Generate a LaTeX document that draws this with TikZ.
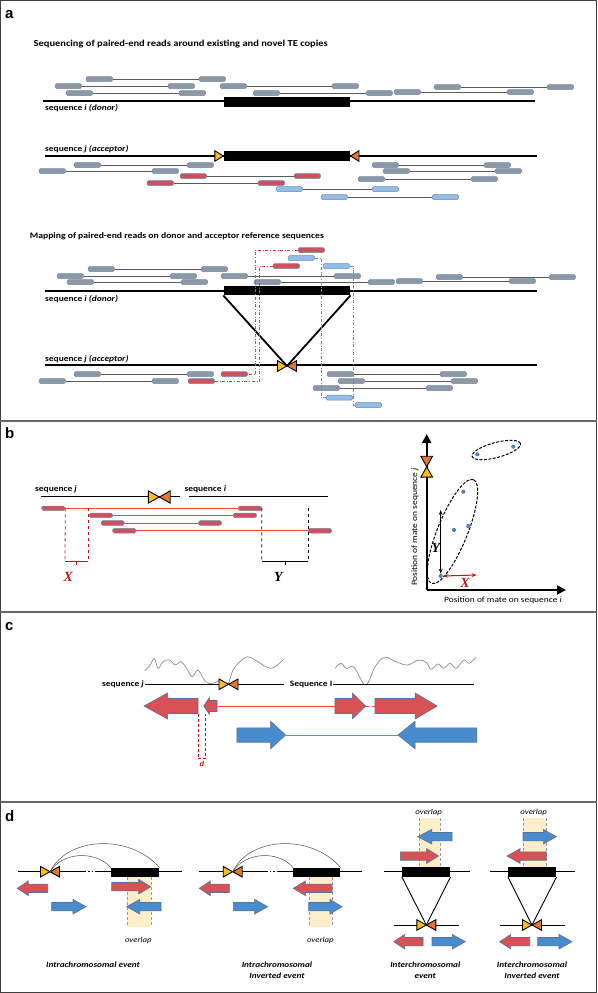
\documentclass[tikz,border=0pt]{standalone}
\usepackage{fontspec}
\setmainfont{Carlito}[FakeStretch=1.15]
\newfontfamily\panelfont{Liberation Sans}
\newfontfamily\varfont{Liberation Serif}
\usetikzlibrary{arrows.meta, calc}
\definecolor{readgray}{RGB}{141,152,164}
\definecolor{readedge}{RGB}{112,140,172}
\definecolor{readred}{RGB}{204,82,92}
\definecolor{readblue}{RGB}{146,190,232}
\definecolor{tsdyellow}{RGB}{250,190,20}
\definecolor{tsdorange}{RGB}{225,120,55}
\definecolor{arrred}{RGB}{214,82,84}
\definecolor{arrblue}{RGB}{72,140,205}
\definecolor{arredge}{RGB}{90,110,150}
\definecolor{ovl}{RGB}{252,238,200}
\definecolor{dotblue}{RGB}{85,130,185}
\definecolor{mateline}{RGB}{90,90,90}
\definecolor{darkred}{RGB}{200,20,20}
\definecolor{ddred}{RGB}{225,70,70}
\definecolor{ddblue}{RGB}{70,145,225}
\tikzstyle{read} = [rectangle, rounded corners=1.6pt, minimum width=26.7pt, minimum height=5pt, inner sep=0pt, draw=readedge, line width=0.5pt, fill=readgray]
\tikzstyle{redread} = [read, fill=readred]
\tikzstyle{blueread} = [read, fill=readblue]
\tikzstyle{bread} = [read, fill=readred, minimum width=23.3pt, minimum height=4.6pt]
\tikzstyle{mate} = [line width=0.5pt, draw=mateline]
\tikzstyle{redmate} = [line width=0.6pt, draw=red!75!white]
\tikzstyle{seqline} = [line width=1.3pt]
\tikzstyle{te} = [rectangle, fill=black, inner sep=0pt]
\tikzstyle{vline} = [line width=1.8pt]
\tikzstyle{reddd} = [dash dot, line width=0.8pt, draw=ddred]
\tikzstyle{bluedd} = [dash dot, line width=0.8pt, draw=ddblue]
\tikzstyle{title} = [font=\bfseries\fontsize{9.1}{10}\selectfont, anchor=base west, inner sep=0pt]
\tikzstyle{seqlabel} = [font=\bfseries\fontsize{8.2}{9}\selectfont, anchor=base west, inner sep=0pt]
\tikzstyle{axislabel} = [font=\fontsize{8.2}{9}\selectfont, inner sep=0pt]
\tikzstyle{eventlabel} = [font=\bfseries\itshape\fontsize{8}{11}\selectfont, align=center, anchor=north, inner sep=0pt]
\tikzstyle{ovllabel} = [font=\itshape\fontsize{7.6}{9}\selectfont, inner sep=0pt]
\tikzstyle{panel} = [font=\panelfont\bfseries\fontsize{15}{15}\selectfont, anchor=base west, inner sep=0pt]
\tikzstyle{varlabel} = [font=\varfont\bfseries\itshape\fontsize{14}{14}\selectfont, inner sep=0pt]
\tikzstyle{redarrow} = [fill=arrred, draw=arredge, line width=0.6pt, line join=miter]
\tikzstyle{bluearrow} = [fill=arrblue, draw=arredge, line width=0.6pt, line join=miter]
\tikzstyle{axis} = [line width=1.8pt, -{Triangle[length=9pt, width=9pt]}]
\tikzstyle{cluster} = [line width=1pt, dash pattern=on 3pt off 1.5pt]
\tikzstyle{dotpt} = [circle, fill=dotblue, inner sep=0pt, minimum size=4.2pt]
\tikzstyle{ovlband} = [fill=ovl]
\tikzstyle{ovledge} = [densely dashed, line width=0.4pt, draw=black!40]
\tikzset{
  tsd/.pic={
    \filldraw[fill=tsdyellow, line width=0.9pt] (0,0) -- (-9.5,-5.3) -- (-9.5,5.3) -- cycle;
    \filldraw[fill=tsdorange, line width=0.9pt] (0,0) -- (9.5,-5.3) -- (9.5,5.3) -- cycle;
    \coordinate (-c) at (0,0);
  },
  tsdl/.pic={
    \filldraw[fill=tsdyellow, line width=0.9pt] (0,0) -- (-8.5,-5.3) -- (-8.5,5.3) -- cycle;
  },
  tsdr/.pic={
    \filldraw[fill=tsdorange, line width=0.9pt] (0,0) -- (8.5,-5.3) -- (8.5,5.3) -- cycle;
  }
}
% read drawn as a block arrow: style, name, tail x, tip x, y, head length, half body, half head
\newcommand{\seqarrow}[8]{%
  \pgfmathsetmacro{\arrhb}{(#4>#3) ? #4-#6 : #4+#6}%
  \filldraw[#1] (#3,#5-#7) -- (\arrhb,#5-#7) -- (\arrhb,#5-#8) -- (#4,#5)
    -- (\arrhb,#5+#8) -- (\arrhb,#5+#7) -- (#3,#5+#7) -- cycle;
  \coordinate (#2-tail) at (#3,#5);
  \coordinate (#2-tip) at (#4,#5);}

\begin{document}
\begin{tikzpicture}[x=1pt, y=-1pt]
    \useasboundingbox (0,0) rectangle (597,993);

    % Frame and panel separators
    \draw[line width=1.2pt, draw=black!75] (0.6,0.6) rectangle (596.4,992.4);
    \foreach \ysep in {421, 612, 802}
        \draw[line width=1.1pt, draw=black!60] (0,\ysep) -- (597,\ysep);

    % Panel letters
    \node[panel] (la) at (5,18.3) {a};
    \node[panel] (lb) at (5,438.3) {b};
    \node[panel] (lc) at (5,630) {c};
    \node[panel] (ld) at (5,821.7) {d};

    %% ---------------- Panel a ----------------
    \node[title] (t1) at (33.5,46.5) {Sequencing of paired-end reads around existing and novel TE copies};

    % Donor sequence
    \draw[seqline] (42.6,101) -- (535,101);
    \node[te, minimum width=126.8pt, minimum height=10pt] (te1) at (286.9,102) {};
    \node[seqlabel] (s1) at (45,110.8) {sequence \textit{i (donor)}};
    \foreach \y/\xa/\xb/\s [count=\i] in {79/86/199/read, 86/55/168/read, 86/220/332/read, 87/434/547/read,
                                          93/66/179/read, 93/253/366/read, 92/394/507/read} {
        \node[\s] (dn\i-a) at (\xa+13.35,\y) {};
        \node[\s] (dn\i-b) at (\xb+13.35,\y) {};
        \draw[mate] (dn\i-a) -- (dn\i-b);
    }

    % Acceptor sequence with new insertion
    \draw[seqline] (45,156) -- (537,156);
    \node[te, minimum width=126.8pt, minimum height=10pt] (te2) at (286.9,156) {};
    \pic at (te2.west) {tsdl};
    \pic at (te2.east) {tsdr};
    \node[seqlabel] (s2) at (45,151.5) {sequence \textit{j (acceptor)}};
    \foreach \y/\xa/\xb/\s [count=\i] in {165/74/187/read, 165/372/484/read, 171/39/152/read, 171/383/495/read,
                                          176/180/294/redread, 179/358/471/read, 183/147/258/redread,
                                          189/276/372/blueread, 197/321/432/blueread} {
        \node[\s] (ac\i-a) at (\xa+13.35,\y) {};
        \node[\s] (ac\i-b) at (\xb+13.35,\y) {};
        \draw[mate] (ac\i-a) -- (ac\i-b);
    }

    \node[title, font=\bfseries\fontsize{8.4}{10}\selectfont] (t2) at (29.7,238) {Mapping of paired-end reads on donor and acceptor reference sequences};

    % Mapping on donor
    \draw[seqline] (45,291) -- (537,291);
    \node[te, minimum width=126.8pt, minimum height=9.5pt] (te3) at (286.9,290.5) {};
    \node[seqlabel] (s3) at (45,301.8) {sequence \textit{i (donor)}};
    \foreach \y/\xa/\xb/\s [count=\i] in {269/88/201/read, 276/57/170/read, 276/221/334/read, 277/436/549/read,
                                          282/67/181/read, 282/254/368/read, 281/396/509/read} {
        \node[\s] (md\i-a) at (\xa+13.35,\y) {};
        \node[\s] (md\i-b) at (\xb+13.35,\y) {};
        \draw[mate] (md\i-a) -- (md\i-b);
    }

    % Mapping on acceptor
    \draw[seqline] (45,365) -- (537,365);
    \node[seqlabel] (s4) at (45,361.5) {sequence \textit{j (acceptor)}};
    \foreach \y/\xa/\xb/\s [count=\i] in {374/74/187/read, 381/39/152/read, 374/327/440/read,
                                          381/338/451/read, 388/313/426/read} {
        \node[\s] (ma\i-a) at (\xa+13.35,\y) {};
        \node[\s] (ma\i-b) at (\xb+13.35,\y) {};
        \draw[mate] (ma\i-a) -- (ma\i-b);
    }
    \coordinate (ins) at (287,366);
    \draw[vline] (te3.south west) -- (ins);
    \draw[vline] (te3.south east) -- (ins);
    \pic (ta) at (ins) {tsd};

    % Split mates
    \node[redread] (ch1) at (311.35,250) {};
    \node[redread] (ch2) at (234.35,374) {};
    \node[redread] (ch3) at (286.35,266) {};
    \node[redread] (ch4) at (201.35,381) {};
    \node[blueread] (ch5) at (301.35,258) {};
    \node[blueread] (ch6) at (339.35,397.7) {};
    \node[blueread] (ch7) at (336.35,266) {};
    \node[blueread] (ch8) at (368.35,405) {};
    \draw[reddd] (ch1.west) -- ++(-42,0) |- (ch2.east);
    \draw[reddd] (ch3.west) -- ++(-13,0) |- (ch4.east);
    \draw[bluedd] (ch5.east) -- ++(6,0) |- (ch6.west);
    \draw[bluedd] (ch7.east) -- ++(3,0) |- (ch8.west);

    %% ---------------- Panel b ----------------
    \draw[seqline, line width=1.1pt] (40.7,496.7) -- (180,496.7);
    \draw[seqline, line width=1.1pt] (189,496.7) -- (328.3,496.7);
    \node[seqlabel] (sbj) at (35,491.5) {sequence \textit{j}};
    \node[seqlabel] (sbi) at (184.3,491.5) {sequence \textit{i}};
    \pic[scale=1.15] (tb) at (159.3,497) {tsd};
    \foreach \y/\xa/\xb [count=\i] in {508.3/41.7/238.3, 515.3/89.3/233.3, 523/101/198.3, 530.7/112.7/308.3} {
        \node[bread] (b\i-a) at (\xa+11.65,\y) {};
        \node[bread] (b\i-b) at (\xb+11.65,\y) {};
        \draw[redmate] (b\i-a) -- (b\i-b);
    }

    % X and Y distances
    \coordinate (xl) at (65,561.7);
    \coordinate (xr) at (88.3,561.7);
    \draw[darkred, dashed, line width=0.8pt] (b1-a.east) -- (xl);
    \draw[darkred, dashed, line width=0.8pt] (xr |- b1-a.east) -- (xr);
    \draw[darkred, line width=0.9pt] (xl) -- (xr);
    \draw[darkred, line width=0.9pt] ($(xl)!0.5!(xr)$) -- ++(0,3);
    \node[varlabel, text=darkred] (bx) at (68.3,577) {X};
    \coordinate (yl) at (261.7,561.7);
    \coordinate (yr) at (308.3,561.7);
    \draw[dashed, line width=0.8pt] (b1-b.east) -- (yl);
    \draw[dashed, line width=0.8pt] (yr |- b1-b.east) -- (yr);
    \draw[line width=0.9pt] (yl) -- (yr);
    \draw[line width=0.9pt] ($(yl)!0.5!(yr)$) -- ++(0,3);
    \node[varlabel] (by) at (278.3,577) {Y};

    % Mate position plot
    \coordinate (orig) at (426.7,590);
    \coordinate (ytip) at (426.7,434);
    \coordinate (xtip) at (566,590);
    \draw[axis] (orig) -- (ytip);
    \draw[axis] (orig) -- (xtip);
    \pic[rotate=90, scale=1.1] (tp) at (426.7,466.7) {tsd};
    \node[axislabel, rotate=90] (ylab) at (415,527) {Position of mate on sequence \textit{j}};
    \node[axislabel] (xlab) at (503,600.5) {Position of mate on sequence \textit{i}};
    \draw[cluster, rotate around={15:(496.3,450)}] (496.3,450) ellipse [x radius=25pt, y radius=7.5pt];
    \draw[cluster, rotate around={68:(452.5,531.5)}] (452.5,531.5) ellipse [x radius=56pt, y radius=15pt];
    \foreach \px/\py [count=\i] in {513.3/446.7, 477.3/454.3, 463.3/491.7, 454/530, 468.3/526, 440.7/576}
        \node[dotpt] (p\i) at (\px,\py) {};
    \draw[line width=1pt, {Stealth[length=5pt]}-{Stealth[length=5pt]}] (440.7,510) -- (p6.north);
    \draw[darkred, line width=1pt, {Stealth[length=5pt]}-{Stealth[length=5pt]}] (p6.east) -- (476.7,575);
    \node[varlabel] (py) at (436,548.3) {Y};
    \node[varlabel, text=darkred] (px) at (465,583.3) {X};

    %% ---------------- Panel c ----------------
    \draw[line width=0.7pt, draw=black!45] plot[smooth, tension=0.6] coordinates {
        (144.7,670.7) (149.7,666) (154.2,658.3) (158,668.3) (163,661.7) (169.5,660) (175.2,665)
        (180.9,661.7) (186.6,668.3) (192.3,676.7) (198,670) (205.6,681.7) (213.3,683.3) (220.9,680)
        (227.7,684) (233,670) (240,661.7) (247.5,656.7) (255.1,660) (262.8,665) (270.4,668.3)
        (276.1,666) (283.7,659.3)};
    \draw[line width=0.7pt, draw=black!45] plot[smooth, tension=0.6] coordinates {
        (335.1,668.3) (340.8,663.3) (346.5,668.3) (354.1,667.3) (365.6,685) (375.1,666.7) (384.6,657.3)
        (396,661.7) (407.5,665) (418.9,660) (426.5,662.7) (431.1,669.3) (437.9,664) (443.6,668.3)
        (450.1,663.3) (456.2,668.3) (463.8,660) (469.2,663.3) (476,657.3)};
    \draw[seqline, line width=1.1pt] (144.7,684.3) -- (283.7,684.3);
    \draw[seqline, line width=1.1pt] (333.2,684.3) -- (474,684.3);
    \node[seqlabel, anchor=base east] (scj) at (144,686.8) {sequence \textit{j}};
    \node[seqlabel, anchor=base east] (sci) at (332.5,686.8) {Sequence I};
    \pic (tc) at (228.5,684.3) {tsd};

    \seqarrow{redarrow}{rc1}{198}{144}{706}{23.6}{7.5}{13}
    \seqarrow{redarrow}{rc2}{217}{203.7}{706}{5.7}{5.5}{8.5}
    \seqarrow{redarrow}{rc3}{335}{365.6}{706}{13.3}{7.5}{13}
    \seqarrow{redarrow}{rc4}{375}{437.2}{706}{22}{7.5}{13}
    \seqarrow{bluearrow}{bc1}{236.9}{285.6}{735}{15}{7.2}{13.8}
    \seqarrow{bluearrow}{bc2}{476.8}{398}{735}{17}{7.2}{13.8}
    \draw[redmate] (rc2-tail) -- (rc3-tail);
    \draw[red!75!white, dashed, line width=0.9pt] (rc3-tip) -- (rc4-tail);
    \draw[line width=0.8pt, draw=ddblue] (bc1-tip) -- (bc2-tip);
    \draw[darkred, densely dashed, line width=0.7pt] ($(rc1-tail)+(0,7.5)$) -- ++(0,45) -- ++(7.6,0) -- ++(0,-45);
    \node[font=\itshape\bfseries\fontsize{7.5}{8}\selectfont, text=darkred, inner sep=0pt] (dd) at (202,764) {d};

    %% ---------------- Panel d ----------------
    % Intrachromosomal event
    \fill[ovlband] (126.7,877) rectangle (150.7,926.7);
    \draw[ovledge] (126.7,872) -- (126.7,926.7);
    \draw[ovledge] (150.7,872) -- (150.7,926.7);
    \draw[seqline] (18.3,871.7) -- (85,871.7);
    \draw[seqline, dotted] (85,871.7) -- (95,871.7);
    \draw[seqline] (95,871.7) -- (181.7,871.7);
    \node[te, minimum width=48.3pt, minimum height=9pt] (ted1) at (135.2,872.2) {};
    \pic (td1) at (50,871.7) {tsd};
    \draw[line width=0.5pt, draw=black!70] (td1-c) .. controls (62,852) and (95,850) .. (ted1.north west);
    \draw[line width=0.5pt, draw=black!70] (td1-c) .. controls (68,836) and (130,834) .. (ted1.north east);
    \seqarrow{redarrow}{rd1}{47.7}{17.3}{888.3}{11}{4.2}{7.3}
    \seqarrow{bluearrow}{bd1}{51.7}{86}{906.7}{13}{4.2}{7.3}
    \seqarrow{redarrow}{rd2}{111.7}{150.7}{886.7}{12}{4.2}{7.3}
    \seqarrow{bluearrow}{bd2}{161}{126.7}{906.7}{13}{4.2}{7.3}
    \node[ovllabel] (o1) at (138.3,940) {overlap};
    \node[eventlabel] (e1) at (93,961.5) {Intrachromosomal event};

    % Intrachromosomal inverted event
    \fill[ovlband] (308.7,877) rectangle (332,926.7);
    \draw[ovledge] (308.7,872) -- (308.7,926.7);
    \draw[ovledge] (332,872) -- (332,926.7);
    \draw[seqline] (199.3,871.7) -- (266.7,871.7);
    \draw[seqline, dotted] (266.7,871.7) -- (276.7,871.7);
    \draw[seqline] (276.7,871.7) -- (362,871.7);
    \node[te, minimum width=47pt, minimum height=9pt] (ted2) at (316.8,872.2) {};
    \pic (td2) at (232.7,871.7) {tsd};
    \draw[line width=0.5pt, draw=black!70] (td2-c) .. controls (245,852) and (278,850) .. (ted2.north west);
    \draw[line width=0.5pt, draw=black!70] (td2-c) .. controls (250,836) and (312,834) .. (ted2.north east);
    \seqarrow{redarrow}{rd3}{229.3}{199.3}{888.3}{11}{4.2}{7.3}
    \seqarrow{bluearrow}{bd3}{233.3}{267.7}{906.7}{13}{4.2}{7.3}
    \seqarrow{redarrow}{rd4}{332}{293.3}{888.3}{12}{4.2}{7.3}
    \seqarrow{bluearrow}{bd4}{308.7}{342}{906.7}{12}{4.2}{7.3}
    \node[ovllabel] (o2) at (320.3,940) {overlap};
    \node[eventlabel] (e2) at (277,961.5) {Intrachromosomal\\Inverted event};

    % Interchromosomal event
    \fill[ovlband] (418.7,818) rectangle (439.7,868);
    \draw[ovledge] (418.7,818) -- (418.7,872);
    \draw[ovledge] (439.7,818) -- (439.7,872);
    \draw[seqline] (383.7,871.7) -- (469.7,871.7);
    \node[te, minimum width=48.3pt, minimum height=9.4pt] (ted3) at (426.2,872) {};
    \draw[line width=0.8pt] (393.7,925) -- (458.7,925);
    \coordinate (ins3) at (426.3,925);
    \draw[line width=0.9pt] (ted3.south west) -- (ins3);
    \draw[line width=0.9pt] (ted3.south east) -- (ins3);
    \pic (td3) at (ins3) {tsd};
    \seqarrow{bluearrow}{bd5}{452}{417.7}{836.7}{14}{4.2}{7.3}
    \seqarrow{redarrow}{rd5}{400.3}{438.7}{856}{12}{4.2}{7.3}
    \seqarrow{redarrow}{rd6}{423}{393.7}{941.7}{11}{4.2}{7.3}
    \seqarrow{bluearrow}{bd6}{432}{465.3}{941.7}{13}{4.2}{7.3}
    \node[ovllabel] (o3) at (428.7,812.7) {overlap};
    \node[eventlabel] (e3) at (425.3,961.5) {Interchromosomal\\event};

    % Interchromosomal inverted event
    \fill[ovlband] (523,818) rectangle (546.3,868);
    \draw[ovledge] (523,818) -- (523,872);
    \draw[ovledge] (546.3,818) -- (546.3,872);
    \draw[seqline] (489.7,871.7) -- (575.3,871.7);
    \node[te, minimum width=48.3pt, minimum height=9.4pt] (ted4) at (532.2,872) {};
    \draw[line width=0.8pt] (499.7,925) -- (564.7,925);
    \coordinate (ins4) at (532,925);
    \draw[line width=0.9pt] (ted4.south west) -- (ins4);
    \draw[line width=0.9pt] (ted4.south east) -- (ins4);
    \pic (td4) at (ins4) {tsd};
    \seqarrow{bluearrow}{bd7}{523}{556.3}{836.7}{13}{4.2}{7.3}
    \seqarrow{redarrow}{rd7}{546.3}{507}{856}{13}{4.2}{7.3}
    \seqarrow{redarrow}{rd8}{529.7}{499.7}{941.7}{11}{4.2}{7.3}
    \seqarrow{bluearrow}{bd8}{537.7}{572}{941.7}{13}{4.2}{7.3}
    \node[ovllabel] (o4) at (533.7,812.7) {overlap};
    \node[eventlabel] (e4) at (532,961.5) {Interchromosomal\\Inverted event};
\end{tikzpicture}
\end{document}
